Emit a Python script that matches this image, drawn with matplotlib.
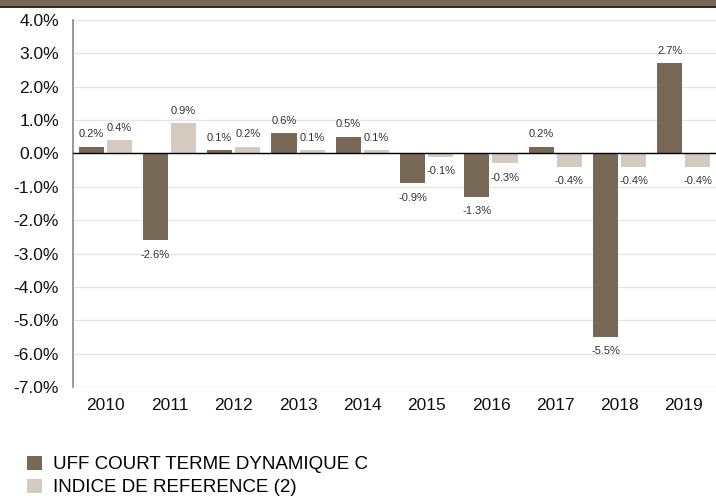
import numpy as np
import matplotlib
matplotlib.use("Agg")
import matplotlib.pyplot as plt
import matplotlib.ticker as mtick
from matplotlib.patches import Rectangle

plt.rcParams["font.family"] = ["Liberation Sans", "DejaVu Sans"]

years = ["2010", "2011", "2012", "2013", "2014", "2015", "2016", "2017", "2018", "2019"]
fund = [0.2, -2.6, 0.1, 0.6, 0.5, -0.9, -1.3, 0.2, -5.5, 2.7]
index_ref = [0.4, 0.9, 0.2, 0.1, 0.1, -0.1, -0.3, -0.4, -0.4, -0.4]
series_names = ["UFF COURT TERME DYNAMIQUE C", "INDICE DE REFERENCE (2)"]

c_dark = "#776955"
c_light = "#d4cac0"

W, H = 716, 499
fig = plt.figure(figsize=(W / 100, H / 100), dpi=100)

# top band
fig.add_artist(Rectangle((0, 1 - 6 / H), 1, 6 / H, transform=fig.transFigure,
                         facecolor=c_dark, edgecolor="none"))
fig.add_artist(Rectangle((0, 1 - 8 / H), 1, 2 / H, transform=fig.transFigure,
                         facecolor="#2b2b2b", edgecolor="none"))

ax = fig.add_axes([73 / W, (H - 387) / H, 643 / W, 367 / H])

x = np.arange(len(years))
w = 0.39
off = 0.218
ax.bar(x - off, fund, width=w, color=c_dark, label=series_names[0], zorder=3)
ax.bar(x + off, index_ref, width=w, color=c_light, label=series_names[1], zorder=3)

for xs, vals in ((x - off, fund), (x + off, index_ref)):
    for xi, v in zip(xs, vals):
        if v >= 0:
            ax.text(xi, v + 0.22, f"{v:.1f}%", ha="center", va="bottom",
                    fontsize=8, color="#333333")
        else:
            ax.text(xi, v - 0.28, f"{v:.1f}%", ha="center", va="top",
                    fontsize=8, color="#333333")

ax.set_xlim(-0.5, len(years) - 0.5)
ax.set_ylim(-7, 4)
ax.set_yticks(np.arange(-7, 4.5, 1))
ax.yaxis.set_major_formatter(mtick.FuncFormatter(lambda v, p: f"{v:.1f}%"))
ax.set_xticks(x)
ax.set_xticklabels(years)
ax.tick_params(axis="both", length=0, labelsize=12.5, colors="#111111")
ax.tick_params(axis="x", pad=8)
ax.tick_params(axis="y", pad=10)

ax.grid(axis="y", color="#e6e6e6", linewidth=1, zorder=0)
ax.axhline(0, color="black", linewidth=1, zorder=4)
for s in ("top", "right", "bottom"):
    ax.spines[s].set_visible(False)
ax.spines["left"].set_color("#888888")
ax.spines["left"].set_linewidth(1.2)

ax.legend(loc="upper left", bbox_to_anchor=(19 / W, 1 - 448 / H), bbox_transform=fig.transFigure,
          frameon=False, fontsize=13.5, handlelength=0.8, handleheight=0.8,
          handletextpad=0.6, labelspacing=0.3, borderaxespad=0)

fig.savefig("out.png", dpi=100)
